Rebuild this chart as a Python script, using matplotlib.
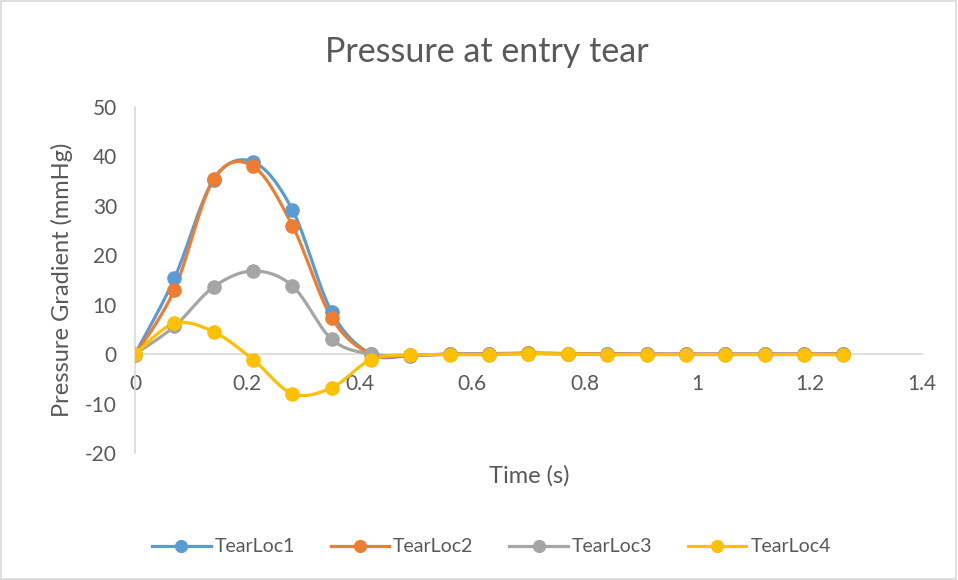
import matplotlib
matplotlib.use('Agg')
import matplotlib.pyplot as plt
import numpy as np
from matplotlib.patches import Rectangle

# Sample times (s) and pressure gradients (mmHg) for each tear location
time_s = [0, 0.07, 0.14, 0.21, 0.28, 0.35, 0.42, 0.49, 0.56, 0.63, 0.70,
          0.77, 0.84, 0.91, 0.98, 1.05, 1.12, 1.19, 1.26]
tear_loc1 = [0, 15.3, 35.3, 38.9, 29.2, 8.5, 0, -0.3, 0, 0.1, 0.2,
             0.1, 0.1, 0, 0, 0, 0, 0, 0.1]
tear_loc2 = [-0.2, 13.0, 35.4, 38.0, 26.0, 7.3, 0, -0.2, 0, 0, 0.2,
             0.1, 0.1, 0, 0, 0, 0, 0, 0.1]
tear_loc3 = [0, 5.6, 13.6, 16.8, 13.8, 3.0, 0, -0.2, 0, 0, 0.1,
             0, 0, 0, 0, 0, 0, 0, 0]
tear_loc4 = [0, 6.2, 4.5, -1.1, -8.0, -6.8, -1.1, -0.2, -0.1, -0.1, 0.1,
             0, -0.1, -0.1, -0.1, -0.1, -0.1, -0.1, -0.1]

series_names = ['TearLoc1', 'TearLoc2', 'TearLoc3', 'TearLoc4']
series_colors = ['#5B9BD5', '#ED7D31', '#A5A5A5', '#FFC000']
text_color = '#595959'
axis_color = '#D9D9D9'

plt.rcParams['font.family'] = ['Lato', 'DejaVu Sans']
plt.rcParams['axes.unicode_minus'] = False


def smooth_curve(x, y, n=30):
    """Catmull-Rom style smoothing like a spreadsheet 'smoothed line'"""
    x = np.asarray(x, float)
    y = np.asarray(y, float)
    px = np.concatenate([[x[0]], x, [x[-1]]])
    py = np.concatenate([[y[0]], y, [y[-1]]])
    xs, ys = [], []
    for i in range(1, len(px) - 2):
        p0 = np.array([px[i - 1], py[i - 1]])
        p1 = np.array([px[i], py[i]])
        p2 = np.array([px[i + 1], py[i + 1]])
        p3 = np.array([px[i + 2], py[i + 2]])
        c1 = p1 + (p2 - p0) / 6.0
        c2 = p2 - (p3 - p1) / 6.0
        t = np.linspace(0, 1, n)[:, None]
        pts = ((1 - t) ** 3 * p1 + 3 * (1 - t) ** 2 * t * c1
               + 3 * (1 - t) * t ** 2 * c2 + t ** 3 * p2)
        xs.extend(pts[:, 0])
        ys.extend(pts[:, 1])
    return np.array(xs), np.array(ys)


fig = plt.figure(figsize=(9.58, 5.8), dpi=100)
fig.patches.append(Rectangle((0.001, 0.002), 0.997, 0.996, transform=fig.transFigure,
                             fill=False, edgecolor=axis_color, linewidth=1.2))
ax = fig.add_axes([0.1409, 0.219, 0.8215, 0.5966])

for name, vals, color in zip(series_names,
                             [tear_loc1, tear_loc2, tear_loc3, tear_loc4],
                             series_colors):
    sx, sy = smooth_curve(time_s, vals)
    ax.plot(sx, sy, color=color, linewidth=2.3, solid_capstyle='round', zorder=3)
    ax.plot(time_s, vals, linestyle='none', marker='o', markersize=9.5,
            color=color, zorder=4)
    ax.plot([], [], color=color, linewidth=2.3, marker='o', markersize=8.5, label=name)

ax.set_xlim(0, 1.4)
ax.set_ylim(-20, 50)
ax.set_xticks(np.arange(0, 1.41, 0.2))
ax.set_xticklabels(['0', '0.2', '0.4', '0.6', '0.8', '1', '1.2', '1.4'])
ax.set_yticks(np.arange(-20, 51, 10))

for side in ['top', 'right']:
    ax.spines[side].set_visible(False)
ax.spines['left'].set_color(axis_color)
ax.spines['left'].set_linewidth(1.2)
ax.spines['bottom'].set_position(('data', 0))
ax.spines['bottom'].set_color(axis_color)
ax.spines['bottom'].set_linewidth(1.2)
ax.spines['bottom'].set_zorder(1)

ax.tick_params(axis='x', length=0, pad=14.5, labelsize=15, labelcolor=text_color)
ax.tick_params(axis='y', length=0, pad=13, labelsize=15, labelcolor=text_color)

fig.text(0.508, 0.91, 'Pressure at entry tear', ha='center', va='center',
         fontsize=24.5, color=text_color)
fig.text(0.552, 0.179, 'Time (s)', ha='center', va='center',
         fontsize=17, color=text_color)
fig.text(0.065, 0.517, 'Pressure Gradient (mmHg)', ha='center', va='center',
         rotation=90, fontsize=17, color=text_color)

fig.legend(loc='center', bbox_to_anchor=(0.513, 0.057), ncol=4, frameon=False,
           fontsize=14, labelcolor=text_color, handlelength=3.0,
           columnspacing=1.85, handletextpad=0.2)

plt.savefig('out.png', dpi=100)
plt.close()
